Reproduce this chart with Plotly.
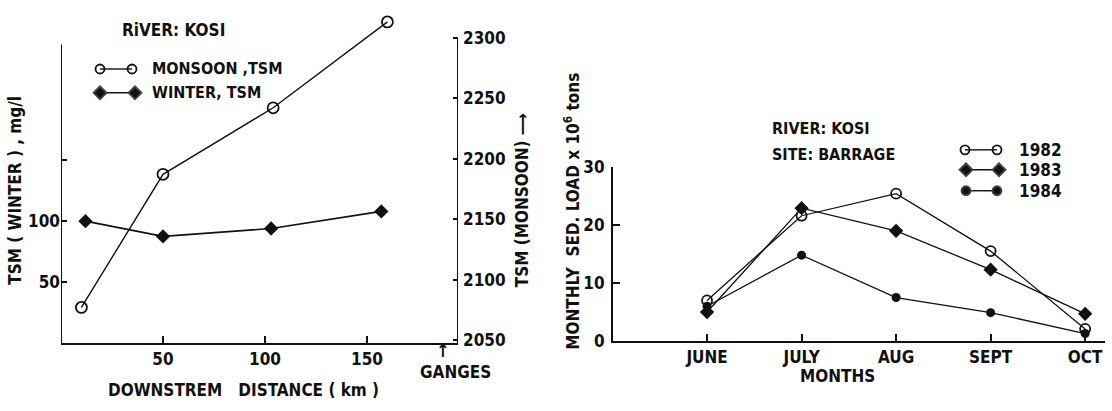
import plotly.graph_objects as go

# ---------------- data ----------------
# Left panel: River Kosi, TSM vs downstream distance
monsoon_km = [10, 50, 104, 160]
monsoon_tsm = [2077, 2187, 2242, 2313]
winter_km = [12, 50, 103, 157]
winter_tsm = [100, 87.5, 94, 108]

left_x_ticks = [50, 100, 150]
left_y_ticks = [50, 100]
left_y_minor = [150]
right_y_ticks = [2050, 2100, 2150, 2200, 2250, 2300]

# Right panel: River Kosi, site Barrage, monthly sediment load (10^6 tons)
months = ["JUNE", "JULY", "AUG", "SEPT", "OCT"]
load_1982 = [7.0, 21.6, 25.4, 15.5, 2.1]
load_1983 = [5.0, 22.9, 19.0, 12.3, 4.7]
load_1984 = [6.0, 14.8, 7.5, 4.9, 1.3]
load_ticks = [0, 10, 20, 30]

# ---------------- layout helpers ----------------
W, H = 1112, 411
FONT = "DejaVu Sans Condensed, DejaVu Sans, sans-serif"
INK = "#111111"
NB = "\u00a0"


def fx(p):
    return p / W


def fy(p):
    return 1 - p / H


fig = go.Figure()

# ---- left panel traces ----
fig.add_trace(go.Scatter(
    x=monsoon_km, y=monsoon_tsm, xaxis="x", yaxis="y2", mode="lines+markers",
    line=dict(color=INK, width=1.4),
    marker=dict(symbol="circle-open", size=11, color=INK, line=dict(width=1.8)),
    cliponaxis=False, showlegend=False))
fig.add_trace(go.Scatter(
    x=winter_km, y=winter_tsm, xaxis="x", yaxis="y", mode="lines+markers",
    line=dict(color=INK, width=1.7),
    marker=dict(symbol="diamond", size=11, color=INK),
    cliponaxis=False, showlegend=False))

# ---- right panel traces ----
fig.add_trace(go.Scatter(
    x=months, y=load_1982, xaxis="x3", yaxis="y3", mode="lines+markers",
    line=dict(color=INK, width=1.3),
    marker=dict(symbol="circle-open", size=10, color=INK, line=dict(width=1.8)),
    cliponaxis=False, showlegend=False))
fig.add_trace(go.Scatter(
    x=months, y=load_1983, xaxis="x3", yaxis="y3", mode="lines+markers",
    line=dict(color=INK, width=1.3),
    marker=dict(symbol="diamond", size=11, color=INK),
    cliponaxis=False, showlegend=False))
fig.add_trace(go.Scatter(
    x=months, y=load_1984, xaxis="x3", yaxis="y3", mode="lines+markers",
    line=dict(color=INK, width=1.3),
    marker=dict(symbol="circle", size=9, color=INK),
    cliponaxis=False, showlegend=False))

# ---- custom legend glyphs on a full-figure overlay axis (pixel units) ----
legend_rows = [
    # (x_left, x_right, y, symbol, size)
    (100, 132, 62, "circle-open", 9),
    (100, 135, 87, "diamond", 10),
    (965, 997, 147, "circle-open", 9),
    (966, 999, 168, "diamond", 10),
    (966, 997, 190, "circle", 9),
]
for xl, xr, yy, sym, sz in legend_rows:
    fig.add_trace(go.Scatter(
        x=[xl, xr], y=[yy, yy], xaxis="x4", yaxis="y4", mode="lines+markers",
        line=dict(color=INK, width=1.4),
        marker=dict(symbol=sym, size=sz, color=INK, line=dict(width=1.8)),
        cliponaxis=False, showlegend=False, hoverinfo="skip"))

tickfont = dict(family=FONT, size=17, color=INK, weight="bold")

fig.update_layout(
    width=W, height=H,
    margin=dict(l=0, r=0, t=0, b=0),
    paper_bgcolor="white", plot_bgcolor="rgba(0,0,0,0)",
    font=dict(family=FONT, size=16, color=INK),
    showlegend=False,
    xaxis=dict(
        domain=[fx(61), fx(458)], range=[0, 194.6],
        tickvals=left_x_ticks, ticks="inside", ticklen=7, tickwidth=1.5,
        tickcolor=INK, showline=True, linecolor=INK, linewidth=2,
        showgrid=False, zeroline=False, tickfont=tickfont, anchor="y"),
    yaxis=dict(
        domain=[fy(350), fy(5)], range=[0, 269.5],
        tickvals=left_y_ticks, ticks="inside",
        ticklen=6, tickwidth=1.5, tickcolor=INK, showline=False,
        minor=dict(tickvals=left_y_minor, ticks="inside", ticklen=6,
                   tickwidth=1.5, tickcolor=INK, showgrid=False),
        showgrid=False, zeroline=False, tickfont=tickfont, anchor="x",
        ticklabelstandoff=0),
    yaxis2=dict(
        overlaying="y", side="right", anchor="x", range=[2047.6, 2318.9],
        tickvals=right_y_ticks, ticks="inside", ticklen=5, tickwidth=1.5,
        tickcolor=INK, showline=False, showgrid=False, zeroline=False,
        tickfont=tickfont, ticklabelstandoff=4),
    xaxis3=dict(
        domain=[fx(613), fx(1105)], range=[-0.995, 4.21], type="category",
        ticks="inside", ticklen=7, tickwidth=1.5, tickcolor=INK,
        showline=True, linecolor=INK, linewidth=2, showgrid=False,
        zeroline=False, tickfont=tickfont, anchor="y3"),
    yaxis3=dict(
        domain=[fy(348), fy(165)], range=[0, 30], tickvals=load_ticks,
        ticks="inside", ticklen=7, tickwidth=1.5, tickcolor=INK,
        showline=True, linecolor=INK, linewidth=2, showgrid=False,
        zeroline=False, tickfont=tickfont, anchor="x3", ticklabelstandoff=3),
    xaxis4=dict(domain=[0, 1], range=[0, W], visible=False, anchor="y4",
                fixedrange=True),
    yaxis4=dict(domain=[0, 1], range=[H, 0], visible=False, anchor="x4",
                fixedrange=True),
)

# axis lines of the left panel (drawn within the labelled span)
fig.add_shape(type="line", xref="x", yref="y", x0=0, x1=0, y0=0, y1=245,
              line=dict(color=INK, width=2))
fig.add_shape(type="line", xref="x", yref="y2", x0=194.6, x1=194.6,
              y0=2047.6, y1=2300, line=dict(color=INK, width=2))


def note(text, x, y, xref="paper", yref="paper", angle=0, size=17,
         xanchor="center", yanchor="middle"):
    fig.add_annotation(
        text=text, x=fx(x) if xref == "paper" else x,
        y=fy(y) if yref == "paper" else y, xref=xref, yref=yref,
        showarrow=False, textangle=angle, xanchor=xanchor, yanchor=yanchor,
        font=dict(family=FONT, size=size, color=INK, weight="bold"))


# left panel texts
note("RiVER: KOSI", 120, 21, xanchor="left")
note("MONSOON ,TSM", 150, 62, xanchor="left", size=16)
note("WINTER, TSM", 150, 87, xanchor="left", size=16)
note(f"TSM ({NB}WINTER{NB}) ,{NB}mg/l", 15, 190, angle=-90)
note("TSM (MONSOON) ⟶", 522, 200, angle=-90)
note(f"DOWNSTREM{NB}{NB}{NB}DISTANCE ( km )", 243, 399)
note("↑", 187, 358, xref="x", size=18)
note("GANGES", 455, 380)

# right panel texts
note("RIVER: KOSI", 770, 125, xanchor="left", size=16)
note("SITE: BARRAGE", 770, 152, xanchor="left", size=16)
note("1982", 1017, 147, xanchor="left")
note("1983", 1017, 168, xanchor="left")
note("1984", 1017, 190, xanchor="left")
note(f"MONTHLY{NB}{NB}SED. LOAD x 10<sup>6</sup> tons", 572, 212, angle=-90)
note("MONTHS", 837, 385)

fig.write_html(
    "out.html",
    config={"displayModeBar": False},
    post_script="document.body.style.margin='0';document.body.style.overflow='hidden';")
